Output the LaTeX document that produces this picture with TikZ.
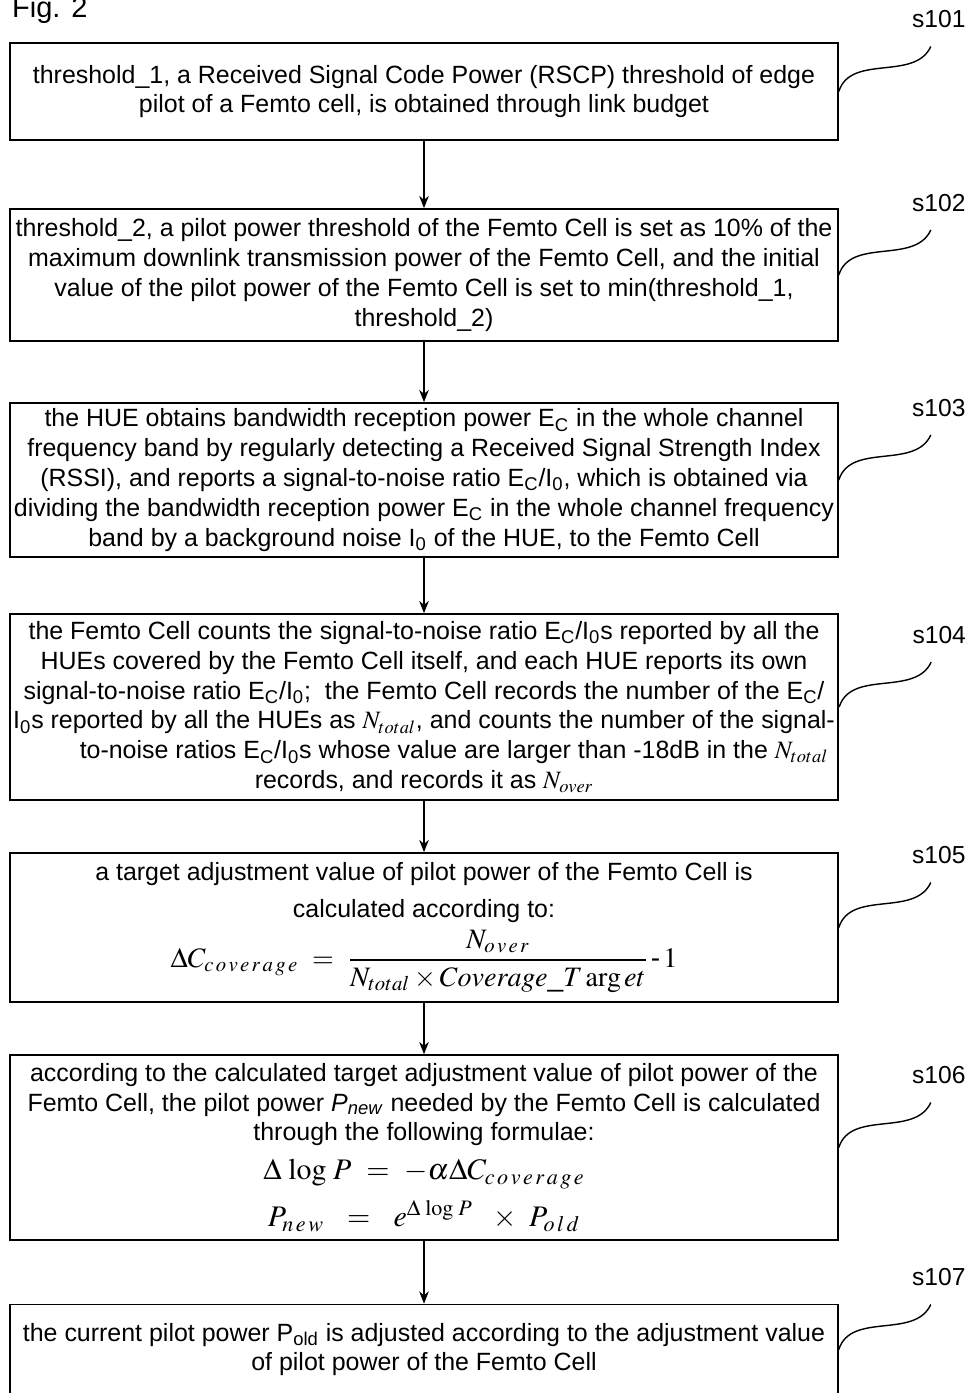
\documentclass[tikz,border=0pt]{standalone}
\usepackage{amsmath}
\usepackage{mathptmx}
\usepackage[no-math]{fontspec}
\setmainfont{Liberation Sans}
\usetikzlibrary{arrows.meta}
\usetikzlibrary{calc}

\begin{document}
\begin{tikzpicture}[x=0.02cm, y=-0.02cm,
    stepbox/.style={draw, line width=1pt, align=center, minimum width=16.56cm,
      minimum height=#1, inner sep=2pt, font=\fontsize{14.2}{17}\selectfont},
    flow/.style={-{Stealth[length=7pt, width=5.5pt]}, line width=0.6pt},
    squig/.style={line width=0.8pt},
    steplbl/.style={font=\fontsize{14}{16}\selectfont}]
		\useasboundingbox (0,0) rectangle (969,1393);
		\node [anchor=west, font=\fontsize{16.5}{20}\selectfont] (fig) at (6,10) {Fig. 2};
		
		% the seven steps
		\node [stepbox=1.94cm] (b1) at (424,91.5) {threshold\_1, a Received Signal Code Power (RSCP) threshold of edge\\
			pilot of a Femto cell, is obtained through link budget};
		\node [stepbox=2.64cm] (b2) at (424,275) {threshold\_2, a pilot power threshold of the Femto Cell is set as 10\% of the\\
			maximum downlink transmission power of the Femto Cell, and the initial\\
			value of the pilot power of the Femto Cell is set to min(threshold\_1,\\
			threshold\_2)};
		\node [stepbox=3.08cm] (b3) at (424,480) {the HUE obtains bandwidth reception power E\textsubscript{C} in the whole channel\\
			frequency band by regularly detecting a Received Signal Strength Index\\
			(RSSI), and reports a signal-to-noise ratio E\textsubscript{C}/I\textsubscript{0}, which is obtained via\\
			dividing the bandwidth reception power E\textsubscript{C} in the whole channel frequency\\
			band by a background noise I\textsubscript{0} of the HUE, to the Femto Cell};
		\node [stepbox=3.72cm] (b4) at (424,707) {the Femto Cell counts the signal-to-noise ratio E\textsubscript{C}/I\textsubscript{0}s reported by all the\\
			HUEs covered by the Femto Cell itself, and each HUE reports its own\\
			signal-to-noise ratio E\textsubscript{C}/I\textsubscript{0};\ \ the Femto Cell records the number of the E\textsubscript{C}/\\
			I\textsubscript{0}s reported by all the HUEs as $N_{total}$, and counts the number of the signal-\\
			\hspace*{1.2cm}to-noise ratios E\textsubscript{C}/I\textsubscript{0}s whose value are larger than -18dB in the $N_{total}$\\
			records, and records it as $N_{over}$};
		\node [stepbox=2.98cm] (b5) at (424,927.5) {a target adjustment value of pilot power of the Femto Cell is\\[4pt]
			calculated according to:\\[3pt]
			{\fontsize{16}{19}\selectfont$\displaystyle \Delta C_{c\,o\,v\,e\,r\,a\,g\,e}\ =\ \frac{N_{o\,v\,e\,r}}{N_{total}\times Coverage\_T\arg et}\,\textrm{-}\,1$}};
		\node [stepbox=3.7cm] (b6) at (424,1147.5) {according to the calculated target adjustment value of pilot power of the\\
			Femto Cell, the pilot power \textit{P}\textsubscript{\textit{new}} needed by the Femto Cell is calculated\\
			through the following formulae:\\[5pt]
			{\fontsize{17}{20}\selectfont$\Delta\,\log\,P\ =\ -\alpha\Delta C_{c\,o\,v\,e\,r\,a\,g\,e}$}\\[6pt]
			{\fontsize{17}{20}\selectfont$P_{n\,e\,w}\ \ =\ \ e^{\Delta\,\log\,P}\ \ \times\ P_{o\,l\,d}$}};
		\node [stepbox=1.8cm] (b7) at (424,1349.5) {the current pilot power P\textsubscript{old} is adjusted according to the adjustment value\\
			of pilot power of the Femto Cell};
		
		% arrows between steps
		\foreach \a/\b in {1/2,2/3,3/4,4/5,5/6,6/7}{\draw[flow] (b\a) -- (b\b);}
		
		% step labels with their wavy leaders
		\foreach \i in {1,...,7}{
			\draw[squig] (b\i.east) .. controls ($(b\i.east)+(12,-38)$) and ($(b\i.east)+(76,-10)$) .. ($(b\i.east)+(92,-45)$) coordinate (t\i);
			\node[steplbl] (s\i) at ($(t\i)+(8,-27)$) {s10\i};
		}
		
		\end{tikzpicture}
\end{document}
